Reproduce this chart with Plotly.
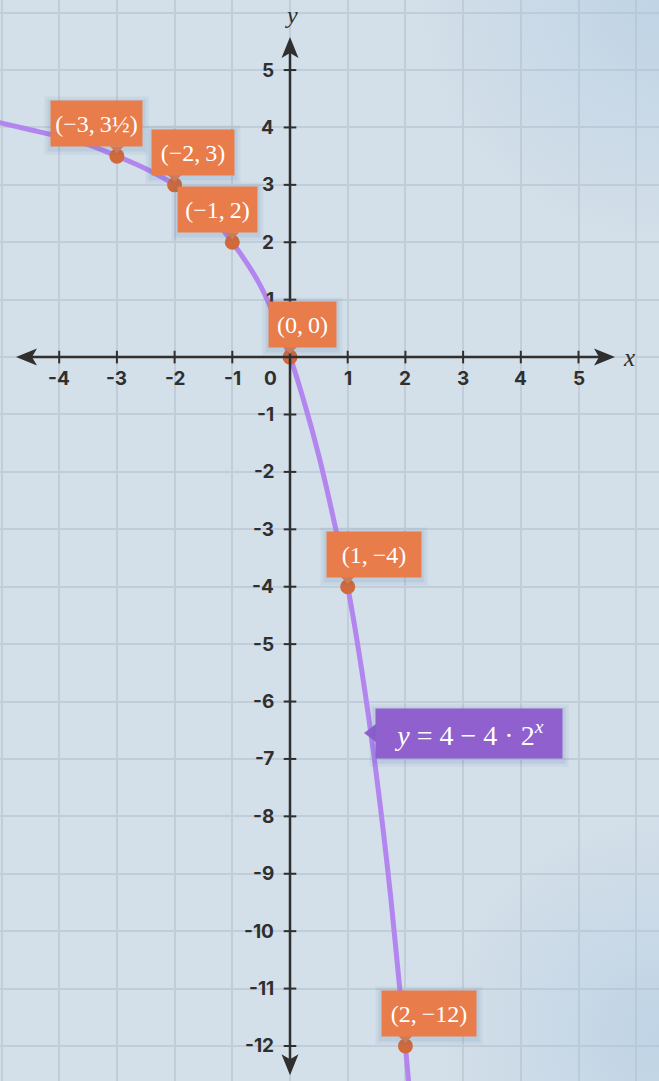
import plotly.graph_objects as go

# curve y = 4 - 4*2^x
curve_x = [-5.1, -4.5, -4, -3.5, -3, -2.5, -2, -1.5, -1, -0.5, 0, 0.25, 0.5, 0.75, 1, 1.25, 1.5, 1.75, 2, 2.25]
curve_y = [4.1, 3.96, 3.84, 3.7, 3.5, 3.28, 3, 2.6, 2, 1.22, 0, -0.8, -1.72, -2.8, -4, -5.5, -7.3, -9.45, -12, -15]

# labelled points
pt_x = [-3, -2, -1, 0, 1, 2]
pt_y = [3.5, 3, 2, 0, -4, -12]
pt_text = ["(−3,\u20093½)", "(−2,\u20093)", "(−1,\u20092)", "(0,\u20090)", "(1,\u2009−4)", "(2,\u2009−12)"]

# axis ticks
x_ticks = [-4, -3, -2, -1, 1, 2, 3, 4, 5]
y_ticks = [5, 4, 3, 2, 1, -1, -2, -3, -4, -5, -6, -7, -8, -9, -10, -11, -12]

eq_text = "<i>y</i> = 4 − 4 · 2<sup><i>x</i></sup>"
eq_at = (1.283, -6.55)

# axis arrow tips
x_ends = (-4.749, 5.633)
y_ends = (-12.51, 5.577)

# label box styling (pixels)
box_dx = [-67, -24, -55, -22, -22, -24]
box_w = [91, 82, 79, 67, 94, 94]
box_h = 45

ORANGE = "#e87c4a"
DOT = "#d0693b"
PURPLE = "#8f60ce"
LINE = "#b385ee"
AXIS = "#2f2f2f"
BG = "#d3dfe9"

fig = go.Figure()

# soft background tint in the right corners
for cx, cy, r in [(6.4, 6.2, 4.2), (6.4, -11.8, 3.8)]:
    fig.add_trace(go.Scatter(
        x=[cx - r, cx + r, cx + r, cx - r, cx - r],
        y=[cy - r, cy - r, cy + r, cy + r, cy - r],
        mode="none", fill="toself", hoverinfo="skip", showlegend=False,
        fillgradient=dict(type="radial", colorscale=[[0, "rgba(165,196,224,0.42)"], [1, "rgba(165,196,224,0)"]]),
    ))

fig.add_trace(go.Scatter(x=curve_x, y=curve_y, mode="lines", line=dict(color=LINE, width=5, shape="spline"),
                         hoverinfo="skip", showlegend=False))

# tick marks on the axes
fig.add_trace(go.Scatter(x=x_ticks, y=[0] * len(x_ticks), mode="markers", hoverinfo="skip", showlegend=False,
                         marker=dict(symbol="line-ns", size=9, line=dict(color=AXIS, width=2))))
fig.add_trace(go.Scatter(x=[0] * len(y_ticks), y=y_ticks, mode="markers", hoverinfo="skip", showlegend=False,
                         marker=dict(symbol="line-ew", size=9, line=dict(color=AXIS, width=2))))

fig.add_trace(go.Scatter(x=pt_x, y=pt_y, mode="markers", hoverinfo="skip", showlegend=False,
                         marker=dict(size=15, color=DOT)))

shapes = []
# axes with arrowheads
shapes.append(dict(type="line", xref="x", yref="y", x0=x_ends[0] + 0.2, x1=x_ends[1] - 0.2, y0=0, y1=0,
                   line=dict(color=AXIS, width=2.5), layer="above"))
shapes.append(dict(type="line", xref="x", yref="y", x0=0, x1=0, y0=y_ends[0] + 0.2, y1=y_ends[1] - 0.2,
                   line=dict(color=AXIS, width=2.5), layer="above"))
head = {"r": "M 0,0 L -21,8.5 L -16,0 L -21,-8.5 Z", "l": "M 0,0 L 21,8.5 L 16,0 L 21,-8.5 Z",
        "u": "M 0,0 L 8.5,-21 L 0,-16 L -8.5,-21 Z", "d": "M 0,0 L 8.5,21 L 0,16 L -8.5,21 Z"}
for (hx, hy), k in [((x_ends[1], 0), "r"), ((x_ends[0], 0), "l"), ((0, y_ends[1]), "u"), ((0, y_ends[0]), "d")]:
    shapes.append(dict(type="path", xref="x", yref="y", xsizemode="pixel", ysizemode="pixel",
                       xanchor=hx, yanchor=hy, path=head[k], fillcolor=AXIS, line=dict(width=0), layer="above"))

fig.add_annotation(x=5.875, y=0, text="<i>x</i>", showarrow=False, xanchor="center", yanchor="middle",
                   font=dict(family="Liberation Serif", size=25, color=AXIS))
fig.add_annotation(x=0.02, y=5.96, text="<i>y</i>", showarrow=False, xanchor="center", yanchor="middle",
                   font=dict(family="Liberation Serif", size=24, color=AXIS))

tick_font = dict(family="Inter, Roboto, sans-serif", size=19, color=AXIS, weight="bold")
for v in x_ticks:
    fig.add_annotation(x=v, y=0, text=str(v), showarrow=False, xanchor="center", yanchor="middle",
                       yshift=-21, font=tick_font)
fig.add_annotation(x=0, y=0, text="0", showarrow=False, xanchor="center", yanchor="middle",
                   xshift=-20, yshift=-21, font=tick_font)
for v in y_ticks:
    fig.add_annotation(x=0, y=v, text=str(v), showarrow=False, xanchor="right", yanchor="middle",
                       xshift=-14, font=tick_font)

# point labels
label_font = dict(family="Liberation Serif", size=24, color="white")
for x, y, t, dx, w in zip(pt_x, pt_y, pt_text, box_dx, box_w):
    for grow, alpha in [(12, 0.07), (6, 0.10)]:
        fig.add_annotation(x=x, y=y, text=" ", showarrow=False, xanchor="left", yanchor="bottom",
                           xshift=dx - grow / 2, yshift=9 - grow / 2 - 2, width=w + grow, height=box_h + grow,
                           borderpad=0, bgcolor=f"rgba(70,120,170,{alpha})")
    fig.add_annotation(x=x, y=y, text=t, showarrow=False, xanchor="left", yanchor="bottom",
                       xshift=dx, yshift=9, width=w, height=box_h, borderpad=0, bgcolor=ORANGE,
                       font=label_font)
    shapes.append(dict(type="path", xref="x", yref="y", xsizemode="pixel", ysizemode="pixel",
                       xanchor=x, yanchor=y, path="M -7,10 L 7,10 L 0,3 Z",
                       fillcolor=ORANGE, line=dict(width=0), layer="above"))

# equation label
ex, ey = eq_at
for grow, alpha in [(12, 0.07), (6, 0.10)]:
    fig.add_annotation(x=ex, y=ey, text=" ", showarrow=False, xanchor="left", yanchor="middle",
                       xshift=11 - grow / 2, yshift=-2, width=186 + grow, height=49 + grow,
                       borderpad=0, bgcolor=f"rgba(70,100,170,{alpha})")
fig.add_annotation(x=ex, y=ey, text=eq_text, showarrow=False, xanchor="left", yanchor="middle",
                   xshift=11, width=186, height=49, borderpad=0, bgcolor=PURPLE,
                   font=dict(family="Liberation Serif", size=28, color="white"))
shapes.append(dict(type="path", xref="x", yref="y", xsizemode="pixel", ysizemode="pixel",
                   xanchor=ex, yanchor=ey, path="M 0,0 L 12,9 L 12,-9 Z",
                   fillcolor=PURPLE, line=dict(width=0), layer="above"))

fig.update_layout(
    width=659, height=1081, margin=dict(l=0, r=0, t=0, b=0),
    paper_bgcolor=BG, plot_bgcolor=BG, showlegend=False, shapes=shapes,
    xaxis=dict(range=[-5.026, 6.395], dtick=1, tick0=0, showgrid=True, gridcolor="#c1cdd8", gridwidth=1.5,
               zeroline=False, showticklabels=False, ticks="", fixedrange=True),
    yaxis=dict(range=[-12.61, 6.22], dtick=1, tick0=0, showgrid=True, gridcolor="#c1cdd8", gridwidth=1.5,
               zeroline=False, showticklabels=False, ticks="", fixedrange=True),
)

fig.write_html("out.html", config={"displayModeBar": False},
               post_script="document.body.style.margin='0';document.body.style.overflow='hidden';")
